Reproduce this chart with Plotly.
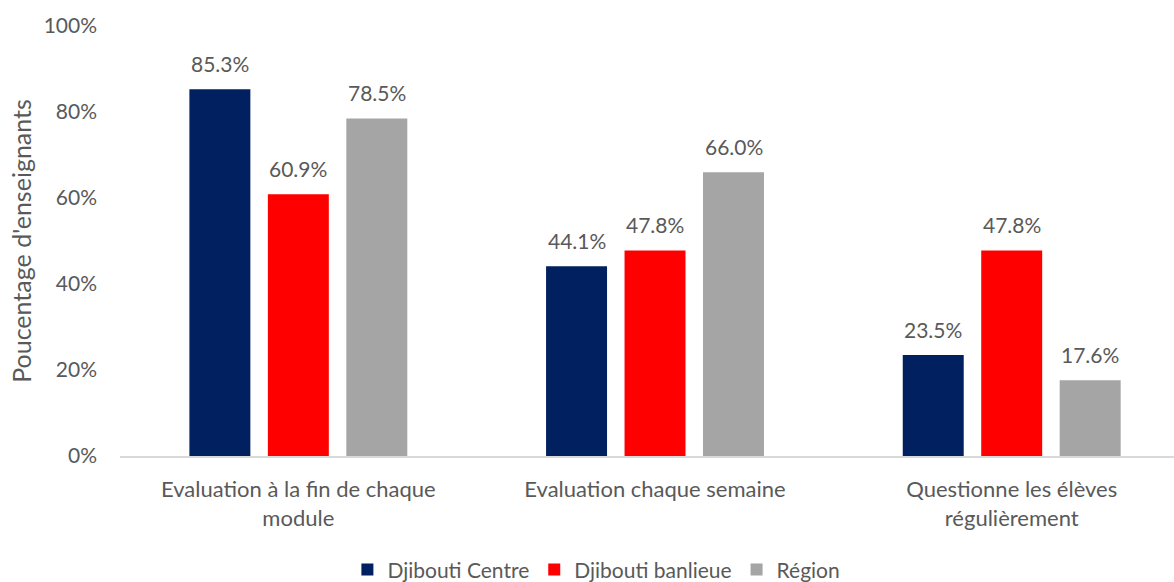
import plotly.graph_objects as go

categories = ["Evaluation à la fin de chaque<br>module", "Evaluation chaque semaine", "Questionne les élèves<br>régulièrement"]
djibouti_centre = [0.853, 0.441, 0.235]
djibouti_banlieue = [0.609, 0.478, 0.478]
region = [0.785, 0.660, 0.176]
y_ticks = [0, 0.2, 0.4, 0.6, 0.8, 1.0]
y_tick_labels = ["0%", "20%", "40%", "60%", "80%", "100%"]

FONT = "Lato, 'Open Sans', sans-serif"
TEXT = "#595959"
SLOT = 0.22  # width of one bar slot within a group (x units)

series = [
    ("Djibouti Centre", djibouti_centre, "#002060"),
    ("Djibouti banlieue", djibouti_banlieue, "#FF0000"),
    ("Région", region, "#A5A5A5"),
]

fig = go.Figure()
annotations = []
for k, (name, vals, color) in enumerate(series):
    xs = list(range(len(categories)))
    fig.add_trace(go.Bar(
        name=name,
        x=xs,
        y=vals,
        marker=dict(color=color, line=dict(width=0)),
        cliponaxis=False,
    ))
    for i, v in zip(xs, vals):
        annotations.append(dict(
            x=i + (k - 1) * SLOT, y=v, xref="x", yref="y",
            text=f"{v*100:.1f}%", showarrow=False,
            yanchor="bottom", yshift=11,
            font=dict(family=FONT, size=21, color=TEXT),
        ))

fig.update_layout(
    width=1174, height=582,
    margin=dict(l=120, r=0, t=26, b=126),
    paper_bgcolor="white", plot_bgcolor="white",
    barmode="group", bargap=0.34, bargroupgap=0.223,
    font=dict(family=FONT, color=TEXT),
    showlegend=True,
    legend=dict(orientation="h", x=0.508, xref="container", xanchor="center",
                y=0.021, yref="container", yanchor="middle",
                font=dict(family=FONT, size=21, color=TEXT),
                traceorder="normal"),
    annotations=annotations,
)
fig.update_xaxes(
    tickmode="array", tickvals=list(range(len(categories))), ticktext=categories,
    range=[-0.5, 2.455], showline=True, linecolor="#D9D9D9", linewidth=1.5,
    ticks="", tickfont=dict(family=FONT, size=22, color=TEXT), showgrid=False,
    zeroline=False, fixedrange=True, automargin=False, ticklabelstandoff=13,
)
fig.update_yaxes(
    range=[0, 1], tickmode="array", tickvals=y_ticks, ticktext=y_tick_labels,
    showgrid=False, zeroline=False, showline=False, ticks="", automargin=False,
    tickfont=dict(family=FONT, size=21, color=TEXT), ticklabelstandoff=22,
    title=dict(text="Poucentage d'enseignants", font=dict(family=FONT, size=25, color=TEXT), standoff=4),
)

fig.write_html("out.html")
